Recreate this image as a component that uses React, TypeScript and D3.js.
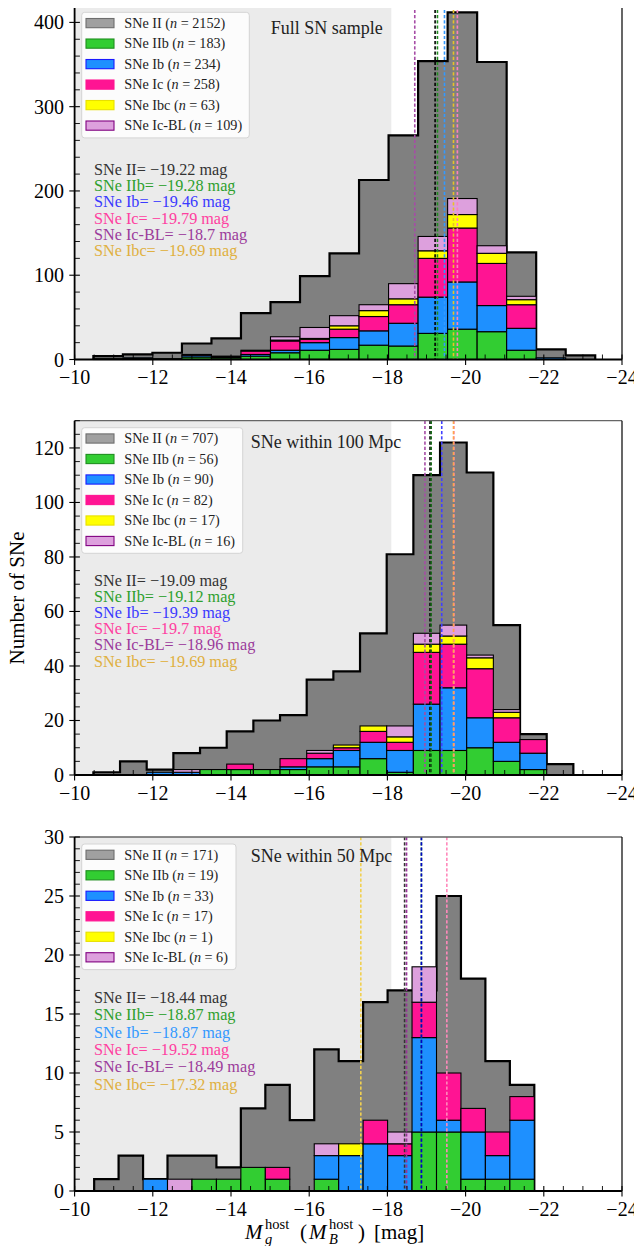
import React from 'react';
import * as d3 from 'd3';

const W = 642, H = 1254;
const L = 74.6, R = 622;
const FONT = '"Liberation Serif", "Times New Roman", serif';

const xMajor = [-10, -12, -14, -16, -18, -20, -22, -24];
const xTickLabels = ['\u221210', '\u221212', '\u221214', '\u221216', '\u221218', '\u221220', '\u221222', '\u221224'];
const shadeLimit = -18.1;

const legendNames = ['SNe II', 'SNe IIb', 'SNe Ib', 'SNe Ic', 'SNe Ibc', 'SNe Ic-BL'];
const annNames = ['SNe II', 'SNe IIb', 'SNe Ib', 'SNe Ic', 'SNe Ic-BL', 'SNe Ibc'];

// ---------- Panel 1: full sample ----------
const p1Edges = [-10.48, -11.235, -11.99, -12.745, -13.5, -14.255, -15.01, -15.765, -16.52, -17.275, -18.03, -18.785, -19.54, -20.295, -21.05, -21.805, -22.56, -23.315];
const p1II = [4, 6, 8, 19, 25, 55, 68, 99, 126, 213, 266, 354, 412, 353, 127, 12, 5];
const p1IIb = [1, 1, 1, 3, 2, 4, 8, 11, 12, 17, 16, 31, 36, 33, 11, 0, 0];
const p1Ib = [0, 1, 0, 2, 1, 2, 3, 9, 14, 17, 27, 43, 56, 31, 26, 2, 0];
const p1Ic = [0, 0, 0, 1, 1, 4, 11, 4, 10, 17, 22, 46, 64, 50, 28, 0, 0];
const p1Ibc = [0, 0, 0, 0, 0, 0, 1, 1, 4, 7, 7, 9, 16, 12, 6, 0, 0];
const p1IcBL = [0, 0, 0, 0, 0, 1, 4, 13, 12, 7, 18, 17, 19, 9, 4, 0, 0];
const p1Counts = [2152, 183, 234, 258, 63, 109];
const p1Medians = [-19.22, -19.28, -19.46, -19.79, -18.7, -19.69];
const p1MedLabels = ['\u221219.22', '\u221219.28', '\u221219.46', '\u221219.79', '\u221218.7', '\u221219.69'];
const p1YTicks = [0, 100, 200, 300, 400];

// ---------- Panel 2: within 100 Mpc ----------
const p2Edges = [-10.48, -11.162, -11.844, -12.526, -13.208, -13.89, -14.572, -15.254, -15.936, -16.618, -17.3, -17.982, -18.664, -19.346, -20.028, -20.71, -21.392, -22.074, -22.756];
const p2II = [1, 5, 2, 8, 10, 16, 20, 22, 35, 38, 52, 81, 110, 122, 111, 55, 15, 4];
const p2IIb = [0, 0, 0, 0, 2, 2, 2, 2, 3, 3, 6, 1, 9, 9, 10, 5, 2, 0];
const p2Ib = [0, 0, 1, 1, 0, 0, 0, 1, 3, 6, 6, 8, 17, 23, 11, 7, 6, 0];
const p2Ic = [0, 0, 0, 0, 0, 2, 0, 3, 2, 1, 4, 3, 19, 16, 18, 9, 5, 0];
const p2Ibc = [0, 0, 0, 0, 0, 0, 0, 0, 0, 1, 2, 2, 3, 3, 4, 2, 0, 0];
const p2IcBL = [0, 0, 0, 1, 0, 0, 0, 0, 1, 0, 0, 4, 4, 4, 1, 1, 0, 0];
const p2Counts = [707, 56, 90, 82, 17, 16];
const p2Medians = [-19.09, -19.12, -19.39, -19.7, -18.96, -19.69];
const p2MedLabels = ['\u221219.09', '\u221219.12', '\u221219.39', '\u221219.7', '\u221218.96', '\u221219.69'];
const p2YTicks = [0, 20, 40, 60, 80, 100, 120];

// ---------- Panel 3: within 50 Mpc ----------
const p3Edges = [-10.5, -11.125, -11.751, -12.376, -13.002, -13.627, -14.252, -14.878, -15.503, -16.129, -16.754, -17.379, -18.005, -18.63, -19.256, -19.881, -20.506, -21.132, -21.757];
const p3II = [1, 3, 1, 3, 3, 2, 7, 9, 6, 12, 11, 16, 17, 17, 25, 18, 11, 9];
const p3IIb = [0, 0, 0, 0, 1, 1, 2, 1, 0, 1, 0, 0, 0, 5, 5, 1, 1, 1];
const p3Ib = [0, 0, 1, 0, 0, 0, 0, 0, 0, 2, 3, 4, 3, 8, 1, 4, 2, 5];
const p3Ic = [0, 0, 0, 0, 0, 0, 0, 1, 0, 0, 0, 2, 1, 3, 4, 2, 2, 2];
const p3Ibc = [0, 0, 0, 0, 0, 0, 0, 0, 0, 0, 1, 0, 0, 0, 0, 0, 0, 0];
const p3IcBL = [0, 0, 0, 1, 0, 0, 0, 0, 0, 1, 0, 0, 1, 3, 0, 0, 0, 0];
const p3Counts = [171, 19, 33, 17, 1, 6];
const p3Medians = [-18.44, -18.87, -18.87, -19.52, -18.49, -17.32];
const p3MedLabels = ['\u221218.44', '\u221218.87', '\u221218.87', '\u221219.52', '\u221218.49', '\u221217.32'];
const p3YTicks = [0, 5, 10, 15, 20, 25, 30];

// ---------- styles ----------
const stackFills = ['#32cd32', '#1e90ff', '#ff1493', '#ffff00', '#dda0dd']; // IIb, Ib, Ic, Ibc, Ic-BL
const legendFills = ['#a0a0a0', '#32cd32', '#1e90ff', '#ff1493', '#ffff00', '#dda0dd'];
const legendEdges = ['#6e6e6e', '#1f8f1f', '#1a1aff', '#ff1493', '#e8e000', '#800080'];

const panels = [
  {
    top: 4.7, bottom: 359.5, ymax: 421, yTicks: p1YTicks, yMinorStep: 20,
    edges: p1Edges, ii: p1II, stack: [p1IIb, p1Ib, p1Ic, p1Ibc, p1IcBL],
    counts: p1Counts, medians: p1Medians, medLabels: p1MedLabels,
    lineColors: ['#000000', '#228b22', '#3399ff', '#ff7fbf', '#a64ca6', '#e6c229'],
    textColors: ['#333333', '#2ea02e', '#3a3aff', '#ff40a0', '#9b3c9b', '#e0b040'],
    title: 'Full SN sample', titleX: 270.7, titleY: 34,
    legendTop: 12.3, legendW: 167.6, annY: 174.8, annStep: 16.3,
  },
  {
    top: 420.7, bottom: 775, ymax: 130, yTicks: p2YTicks, yMinorStep: 5,
    edges: p2Edges, ii: p2II, stack: [p2IIb, p2Ib, p2Ic, p2Ibc, p2IcBL],
    counts: p2Counts, medians: p2Medians, medLabels: p2MedLabels,
    lineColors: ['#000000', '#1a6b1a', '#4040ff', '#ff7fbf', '#a64ca6', '#ffa64d'],
    textColors: ['#333333', '#2ea02e', '#3a3aff', '#ff40a0', '#9b3c9b', '#e0b040'],
    title: 'SNe within 100 Mpc', titleX: 250.7, titleY: 448,
    legendTop: 427.7, legendW: 161, annY: 585.5, annStep: 16.2,
  },
  {
    top: 837, bottom: 1191, ymax: 30, yTicks: p3YTicks, yMinorStep: 1,
    edges: p3Edges, ii: p3II, stack: [p3IIb, p3Ib, p3Ic, p3Ibc, p3IcBL],
    counts: p3Counts, medians: p3Medians, medLabels: p3MedLabels,
    lineColors: ['#333333', '#228b22', '#0000cc', '#ff88bb', '#993399', '#f0d050'],
    textColors: ['#333333', '#2ea02e', '#3399ff', '#ff40a0', '#9b3c9b', '#e0b040'],
    title: 'SNe within 50 Mpc', titleX: 250.7, titleY: 861.5,
    legendTop: 844, legendW: 154.3, annY: 1003, annStep: 17.3,
  },
];

function Panel({ p }: { p: any }) {
  const x = d3.scaleLinear().domain([-10, -24]).range([L, R]);
  const y = d3.scaleLinear().domain([0, p.ymax]).range([p.bottom, p.top]);
  const edges: number[] = p.edges;
  const ii: number[] = p.ii;

  let step = `M${x(edges[0])},${y(0)}`;
  ii.forEach((v, i) => {
    step += `L${x(edges[i])},${y(v)}L${x(edges[i + 1])},${y(v)}`;
  });
  step += `L${x(edges[edges.length - 1])},${y(0)}`;

  const bars: any[] = [];
  ii.forEach((_, i) => {
    let cum = 0;
    p.stack.forEach((s: number[], k: number) => {
      const v = s[i];
      if (v > 0) {
        bars.push(
          <rect key={`b${i}-${k}`} x={x(edges[i])} y={y(cum + v)}
            width={x(edges[i + 1]) - x(edges[i])} height={y(cum) - y(cum + v)}
            fill={stackFills[k]} stroke="#000" strokeWidth={1.1} />
        );
      }
      cum += v;
    });
  });

  const xMinor = d3.range(-10, -24.01, -0.5).filter((v) => Math.abs(v % 2) > 0.01);
  const yMinor = d3.range(0, p.ymax + 0.001, p.yMinorStep).filter((v) => !p.yTicks.includes(v));

  const legRowTop = p.legendTop + 10.8;
  const legSpacing = 20.5;

  return (
    <g>
      <rect x={L} y={p.top} width={x(shadeLimit) - L} height={p.bottom - p.top} fill="#ebebeb" />
      <path d={step + 'Z'} fill="#808080" stroke="none" />
      <path d={step} fill="none" stroke="#000" strokeWidth={2.2} strokeLinejoin="miter" />
      {bars}
      {p.medians.map((m: number, k: number) => (
        <line key={`m${k}`} x1={x(m)} x2={x(m)} y1={p.top} y2={p.bottom}
          stroke={p.lineColors[k]} strokeWidth={1.6} strokeDasharray="3.2,2" />
      ))}
      {/* spines */}
      <line x1={L} x2={R} y1={p.top} y2={p.top} stroke="#666" strokeWidth={1.3} />
      <line x1={R} x2={R} y1={p.top} y2={p.bottom} stroke="#000" strokeWidth={1.2} />
      <line x1={L} x2={L} y1={p.top} y2={p.bottom} stroke="#000" strokeWidth={1.8} />
      <line x1={L} x2={R} y1={p.bottom} y2={p.bottom} stroke="#000" strokeWidth={1.8} />
      {/* x ticks */}
      {xMajor.map((v, i) => (
        <g key={`xt${i}`}>
          <line x1={x(v)} x2={x(v)} y1={p.bottom - 5} y2={p.bottom + 5.5} stroke="#000" strokeWidth={1.1} />
          <text x={x(v)} y={p.bottom + 24.5} textAnchor="middle" fontSize={20} fontFamily={FONT} fill="#000">{xTickLabels[i]}</text>
        </g>
      ))}
      {xMinor.map((v, i) => (
        <line key={`xm${i}`} x1={x(v)} x2={x(v)} y1={p.bottom - 5} y2={p.bottom} stroke="#000" strokeWidth={0.9} />
      ))}
      {/* y ticks */}
      {p.yTicks.map((v: number, i: number) => (
        <g key={`yt${i}`}>
          <line x1={L - 5.3} x2={L + 5.3} y1={y(v)} y2={y(v)} stroke="#000" strokeWidth={1.1} />
          <text x={64} y={y(v) + 7} textAnchor="end" fontSize={20} fontFamily={FONT} fill="#000">{String(v)}</text>
        </g>
      ))}
      {yMinor.map((v: number, i: number) => (
        <line key={`ym${i}`} x1={L} x2={L + 5.3} y1={y(v)} y2={y(v)} stroke="#000" strokeWidth={0.9} />
      ))}
      {/* title */}
      <text x={p.titleX} y={p.titleY} fontSize={18} fontFamily={FONT} fill="#222">{p.title}</text>
      {/* annotations */}
      {annNames.map((nm, k) => (
        <text key={`a${k}`} x={94} y={p.annY + k * p.annStep} fontSize={16.2} fontFamily={FONT} fill={p.textColors[k]}>
          {`${nm}= ${p.medLabels[k]} mag`}
        </text>
      ))}
      {/* legend */}
      <rect x={81.7} y={p.legendTop} width={p.legendW} height={125.6} rx={3} ry={3}
        fill="#ffffff" fillOpacity={0.82} stroke="#d4d4d4" strokeWidth={1} />
      {legendNames.map((nm, k) => {
        const cy = legRowTop + k * legSpacing;
        return (
          <g key={`l${k}`}>
            <rect x={86} y={cy - 4.6} width={28} height={9.2} fill={legendFills[k]} stroke={legendEdges[k]} strokeWidth={1.1} />
            <text x={124.3} y={cy + 4.8} fontSize={14.2} fontFamily={FONT} fill="#222">
              {`${nm} (`}
              <tspan fontStyle="italic">n</tspan>
              {` = ${p.counts[k]})`}
            </text>
          </g>
        );
      })}
    </g>
  );
}

export default function App() {
  return (
    <svg width={W} height={H} viewBox={`0 0 ${W} ${H}`} style={{ display: 'block', margin: '-8px', background: '#fff' }}>
      <rect x={0} y={0} width={W} height={H} fill="#fff" />
      {panels.map((p, i) => <Panel key={i} p={p} />)}
      <text transform="translate(24,598) rotate(-90)" textAnchor="middle" fontSize={21} fontFamily={FONT} fill="#000">Number of SNe</text>
      {/* x label */}
      <g fontFamily={FONT} fill="#000">
        <text x={245} y={1239} fontSize={21} fontStyle="italic">M</text>
        <text x={265} y={1244} fontSize={14.5} fontStyle="italic">g</text>
        <text x={265} y={1229} fontSize={14.5}>host</text>
        <text x={300} y={1239} fontSize={21}>(</text>
        <text x={309} y={1239} fontSize={21} fontStyle="italic">M</text>
        <text x={329} y={1244} fontSize={14.5} fontStyle="italic">B</text>
        <text x={329} y={1229} fontSize={14.5}>host</text>
        <text x={358} y={1239} fontSize={21}>)</text>
        <text x={374} y={1239} fontSize={21}>[mag]</text>
      </g>
    </svg>
  );
}
